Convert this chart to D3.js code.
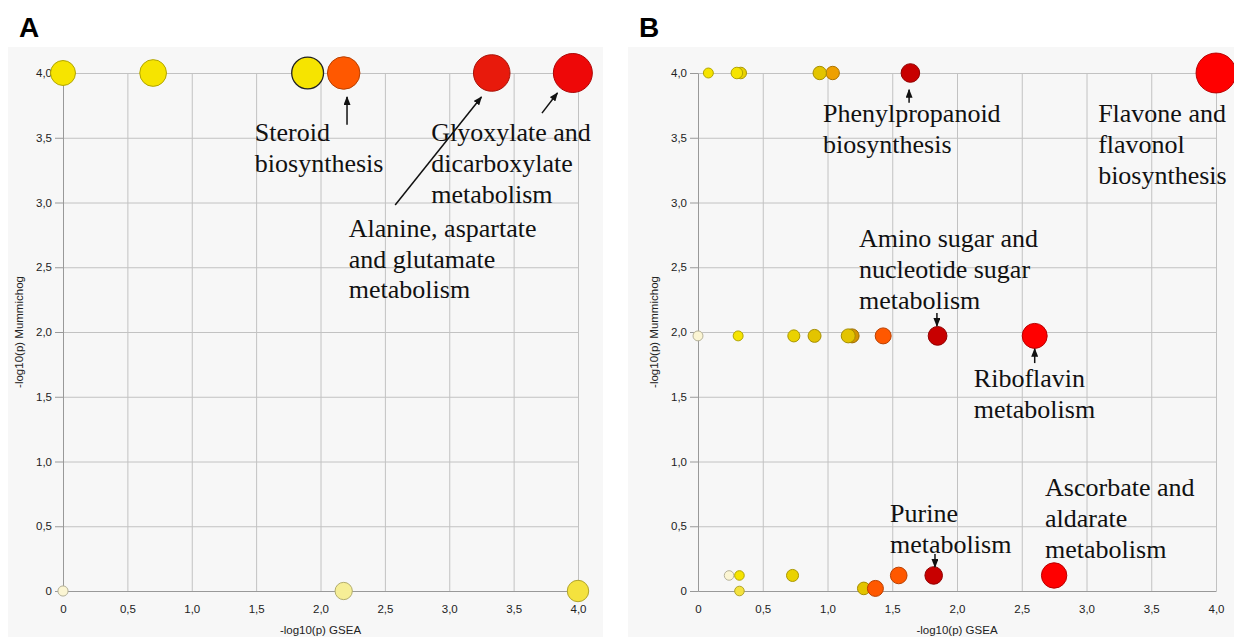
<!DOCTYPE html>
<html lang="en">
<head>
<meta charset="utf-8">
<title>Joint pathway analysis</title>
<script src="https://d3js.org/d3.v7.min.js"></script>
<style>
  body { margin: 0; background: #fff; }
  svg text { font-family: "Liberation Sans", Arial, sans-serif; }
  .note { font-family: "Liberation Serif", "Times New Roman", serif; font-size: 26px; fill: #111; }
</style>
</head>
<body>
<script>
// tick labels shared by both panels
const ticks = [0, 0.5, 1, 1.5, 2, 2.5, 3, 3.5, 4];

// panel A : -log10(p) GSEA, -log10(p) Mummichog, pathway impact, colour level
const gseaA   = [0, 0.70, 1.90, 2.18, 3.33, 3.96, 0, 2.18, 4.00];
const mummA   = [4, 4, 4, 4, 4, 4, 0, 0, 0];
const impactA = [0.27, 0.31, 0.44, 0.46, 0.58, 0.66, 0.045, 0.13, 0.2];
const levelA  = [3, 3, 3, 7, 8, 9, 0, 1, 2];
const selectedA = [2];

// panel B
const gseaB   = [0.08, 0.33, 0.30, 1.04, 0.94, 1.64, 4.00,
                 0, 0.31, 0.74, 0.90, 1.19, 1.16, 1.43, 1.85, 2.60,
                 0.24, 0.32, 0.32, 0.73, 1.28, 1.37, 1.55, 1.82, 2.75];
const mummB   = [4, 4, 4, 4, 4, 4, 4,
                 1.97, 1.97, 1.97, 1.97, 1.97, 1.97, 1.97, 1.97, 1.97,
                 0.12, 0.12, 0, 0.12, 0.02, 0.02, 0.12, 0.12, 0.12];
const impactB = [0.043, 0.058, 0.058, 0.078, 0.078, 0.15, 0.69,
                 0.043, 0.043, 0.063, 0.073, 0.085, 0.085, 0.111, 0.153, 0.271,
                 0.04, 0.04, 0.04, 0.063, 0.069, 0.111, 0.12, 0.134, 0.28];
const levelB  = [3, 4, 3, 6, 5, 11, 10,
                 0, 3, 4, 5, 12, 5, 7, 11, 10,
                 0, 3, 2, 4, 5, 7, 7, 11, 10];

// annotations: text lines with anchor in data units, arrows from -> to
const notesA = [
  {lines: ['Steroid', 'biosynthesis'], x: 1.49, y: 3.475},
  {lines: ['Glyoxylate and', 'dicarboxylate', 'metabolism'], x: 2.86, y: 3.475},
  {lines: ['Alanine, aspartate', 'and glutamate', 'metabolism'], x: 2.22, y: 2.735}
];
const arrowsA = [
  {x1: 2.206, y1: 3.60, x2: 2.206, y2: 3.815},
  {x1: 2.58, y1: 2.98, x2: 3.25, y2: 3.815},
  {x1: 3.72, y1: 3.69, x2: 3.84, y2: 3.846}
];
const notesB = [
  {lines: ['Phenylpropanoid', 'biosynthesis'], x: 0.965, y: 3.62},
  {lines: ['Flavone and', 'flavonol', 'biosynthesis'], x: 3.09, y: 3.62},
  {lines: ['Amino sugar and', 'nucleotide sugar', 'metabolism'], x: 1.243, y: 2.656},
  {lines: ['Riboflavin', 'metabolism'], x: 2.13, y: 1.575},
  {lines: ['Purine', 'metabolism'], x: 1.483, y: 0.533},
  {lines: ['Ascorbate and', 'aldarate', 'metabolism'], x: 2.68, y: 0.734}
];
const arrowsB = [
  {x1: 1.63, y1: 3.77, x2: 1.63, y2: 3.87},
  {x1: 1.845, y1: 2.147, x2: 1.845, y2: 2.046},
  {x1: 2.60, y1: 1.76, x2: 2.60, y2: 1.87},
  {x1: 1.83, y1: 0.286, x2: 1.83, y2: 0.185}
];

const palette = ['#fbf5d3', '#f6ee96', '#f4e23e', '#f6e400', '#ead200', '#e3c400',
                 '#eea000', '#ff5800', '#e81a0c', '#ee0808', '#ff0000', '#c80000', '#d49400'];

const w = 1234;
const h = 637;

const svg = d3.select('body')
              .append('svg')
              .attr('width', w)
              .attr('height', h);

svg.append('defs')
   .append('marker')
   .attr('id', 'head')
   .attr('markerUnits', 'userSpaceOnUse')
   .attr('markerWidth', 9)
   .attr('markerHeight', 7)
   .attr('refX', 8)
   .attr('refY', 3.5)
   .attr('orient', 'auto')
   .append('path')
   .attr('d', 'M0,0 L9,3.5 L0,7 z')
   .attr('fill', '#111');

const fmt = v => v === 0 ? '0' : d3.format('.1f')(v).replace('.', ',');
const rScale = d3.scaleSqrt().domain([0, 1]).range([0, 24]);
const colour = d3.scaleOrdinal().domain(d3.range(palette.length)).range(palette);

function drawPanel(p) {
    const g = svg.append('g');

    g.append('rect')
     .attr('x', p.bg[0])
     .attr('y', 47)
     .attr('width', p.bg[1] - p.bg[0])
     .attr('height', h - 47)
     .attr('fill', '#f7f7f7');

    g.append('text')
     .text(p.letter)
     .attr('x', p.bg[0] + 11)
     .attr('y', 37)
     .attr('font-size', 28)
     .attr('font-weight', 'bold')
     .attr('fill', '#000');

    const x = d3.scaleLinear().domain([0, 4]).range(p.xr);
    const y = d3.scaleLinear().domain([0, 4]).range([591, 73]);

    // grid
    g.append('g')
     .attr('transform', 'translate(0,' + y(0) + ')')
     .call(d3.axisBottom(x).tickValues(ticks).tickSize(-(y(0) - y(4))).tickFormat(''))
     .call(a => a.select('.domain').remove())
     .selectAll('line').attr('stroke', '#c2c2c2');
    g.append('g')
     .attr('transform', 'translate(' + x(0) + ',0)')
     .call(d3.axisLeft(y).tickValues(ticks).tickSize(-(x(4) - x(0))).tickFormat(''))
     .call(a => a.select('.domain').remove())
     .selectAll('line').attr('stroke', '#c2c2c2');

    // axes
    const xAxis = g.append('g')
                   .attr('transform', 'translate(0,' + y(0) + ')')
                   .call(d3.axisBottom(x).tickValues(ticks).tickSize(0).tickSizeOuter(0).tickFormat(fmt));
    xAxis.select('.domain').attr('stroke', '#999');
    xAxis.selectAll('text')
         .attr('y', 22).attr('dy', null)
         .attr('font-size', 11.5).attr('fill', '#222');

    const yAxis = g.append('g')
                   .attr('transform', 'translate(' + x(0) + ',0)')
                   .call(d3.axisLeft(y).tickValues(ticks).tickSize(8).tickSizeOuter(0).tickPadding(3).tickFormat(fmt));
    yAxis.select('.domain').attr('stroke', '#999');
    yAxis.selectAll('line').attr('stroke', '#999');
    yAxis.selectAll('text').attr('font-size', 11.5).attr('fill', '#222');

    g.append('text')
     .text('-log10(p) GSEA')
     .attr('x', x(2))
     .attr('y', 634)
     .attr('text-anchor', 'middle')
     .attr('font-size', 11.5)
     .attr('fill', '#222');

    g.append('text')
     .text('-log10(p) Mummichog')
     .attr('transform', 'translate(' + (x(0) - 40) + ',' + y(2) + ') rotate(-90)')
     .attr('text-anchor', 'middle')
     .attr('font-size', 11.5)
     .attr('fill', '#222');

    // pathways
    const data = p.gsea.map((v, i) => ({
        gsea: v, mumm: p.mumm[i], impact: p.impact[i], level: p.level[i],
        sel: p.selected.includes(i)
    }));
    g.selectAll('circle.dot')
     .data(data)
     .enter()
     .append('circle')
     .attr('class', 'dot')
     .attr('cx', d => x(d.gsea))
     .attr('cy', d => y(d.mumm))
     .attr('r', d => rScale(d.impact))
     .attr('fill', d => colour(d.level))
     .attr('stroke', d => d.sel ? '#222' : d3.color(colour(d.level)).darker(0.9))
     .attr('stroke-width', d => d.sel ? 1.3 : 1);

    // annotations
    p.arrows.forEach(a => {
        g.append('line')
         .attr('x1', x(a.x1)).attr('y1', y(a.y1))
         .attr('x2', x(a.x2)).attr('y2', y(a.y2))
         .attr('stroke', '#111')
         .attr('stroke-width', 1.5)
         .attr('marker-end', 'url(#head)');
    });
    p.notes.forEach(n => {
        const t = g.append('text')
                   .attr('class', 'note')
                   .attr('x', x(n.x))
                   .attr('y', y(n.y));
        n.lines.forEach((l, i) => {
            t.append('tspan')
             .attr('x', x(n.x))
             .attr('dy', i === 0 ? 0 : 30.8)
             .text(l);
        });
    });
}

drawPanel({letter: 'A', bg: [8, 603], xr: [63, 578],
           gsea: gseaA, mumm: mummA, impact: impactA, level: levelA, selected: selectedA,
           notes: notesA, arrows: arrowsA});
drawPanel({letter: 'B', bg: [628, 1234], xr: [698, 1216],
           gsea: gseaB, mumm: mummB, impact: impactB, level: levelB, selected: [],
           notes: notesB, arrows: arrowsB});
</script>
</body>
</html>
